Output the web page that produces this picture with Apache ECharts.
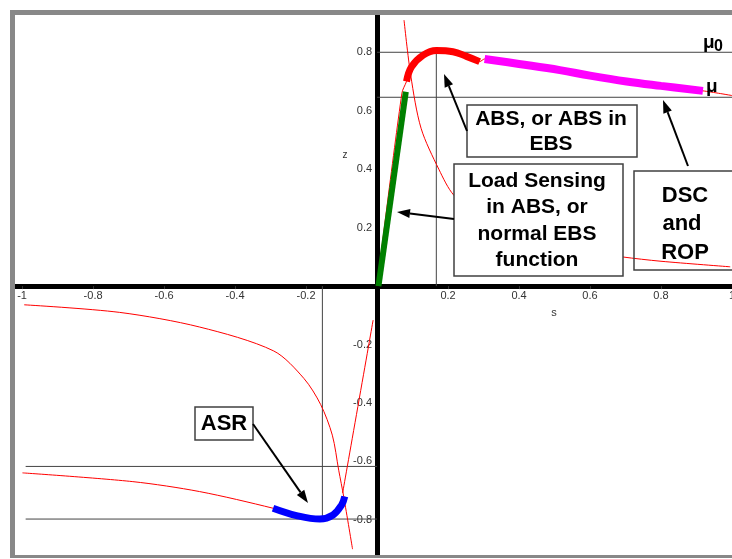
<!DOCTYPE html>
<html lang="en">
  <head>
    <meta charset="UTF-8" />
    <title>mu-slip</title>
    <style>
      html, body { margin: 0; padding: 0; background: #fff; }
      #chart { width: 732px; height: 559px; }
    </style>
  </head>
  <body>
    <div id="chart"></div>

    <script src="https://cdn.jsdelivr.net/npm/echarts@6.0.0/dist/echarts.min.js"></script>
    <script>
      // tick labels
      const xTicks = [-1, -0.8, -0.6, -0.4, -0.2, 0.2, 0.4, 0.6, 0.8, 1];
      const yTicks = [-0.8, -0.6, -0.4, -0.2, 0.2, 0.4, 0.6, 0.8];

      // thin red curves (s, z)
      const curveB = [[0.076, 0.91], [0.095, 0.72], [0.124, 0.54], [0.174, 0.40], [0.217, 0.31],
        [0.3, 0.23], [0.4, 0.17], [0.55, 0.125], [0.69, 0.10], [0.8, 0.085], [0.995, 0.066]];
      const curveA = [[-0.994, -0.064], [-0.725, -0.09], [-0.5, -0.14], [-0.291, -0.222],
        [-0.206, -0.316], [-0.159, -0.405], [-0.126, -0.51], [-0.108, -0.63], [-0.094, -0.72], [-0.069, -0.90]];
      const mainPos = [[0, 0], [0.07, 0.66], [0.083, 0.70], [0.097, 0.75], [0.13, 0.79], [0.167, 0.806],
        [0.214, 0.802], [0.252, 0.786], [0.289, 0.768], [0.303, 0.777], [0.515, 0.739], [0.703, 0.70],
        [0.918, 0.668], [1.0, 0.652]];
      const mainNeg = [[-0.999, -0.639], [-0.688, -0.669], [-0.5, -0.703], [-0.293, -0.76],
        [-0.227, -0.785], [-0.161, -0.797], [-0.124, -0.783], [-0.1, -0.749], [-0.091, -0.72]];
      const negLinear = [[-0.097, -0.708], [-0.011, -0.116]];

      // thick highlighted parts
      const greenPart = [[0.004, 0.0], [0.081, 0.665]];
      const redPart = [[0.083, 0.70], [0.097, 0.75], [0.13, 0.79], [0.167, 0.806], [0.214, 0.802],
        [0.252, 0.786], [0.289, 0.768]];
      const magentaPart = [[0.303, 0.777], [0.4, 0.76], [0.515, 0.739], [0.6, 0.72], [0.703, 0.70],
        [0.8, 0.685], [0.918, 0.668]];
      const bluePart = [[-0.293, -0.76], [-0.227, -0.785], [-0.161, -0.797], [-0.124, -0.783],
        [-0.1, -0.749], [-0.091, -0.72]];

      // reference lines
      const refLines = [
        [[0, 0.8], [1, 0.8]],
        [[0, 0.646], [1, 0.646]],
        [[0.167, 0], [0.167, 0.8]],
        [[-0.99, -0.617], [0, -0.617]],
        [[-0.99, -0.797], [0, -0.797]],
        [[-0.154, 0], [-0.154, -0.797]]
      ];

      const FONT = '"Liberation Sans", Arial, sans-serif';
      const X_MIN = -1.02, X_MAX = 1.0, Y_MIN = -0.92, Y_MAX = 0.9275;
      const G = { left: 15, right: 0, top: 15, bottom: 4 };
      const W = 732, H = 559;
      const gw = W - G.left - G.right, gh = H - G.top - G.bottom;
      // move the axes from the grid edge to the zero lines
      const xOffset = -(gh * (0 - Y_MIN) / (Y_MAX - Y_MIN));
      const yOffset = -(gw * (0 - X_MIN) / (X_MAX - X_MIN));

      function thin(data) {
        return { type: 'line', data: data, symbol: 'none', smooth: 0.3, z: 3,
          lineStyle: { color: '#ff0000', width: 1 } };
      }
      function thick(data, color, width) {
        return { type: 'line', data: data, symbol: 'none', smooth: 0.4, z: 4,
          lineStyle: { color: color, width: width, cap: 'butt' } };
      }

      const series = [];
      refLines.forEach((d) => {
        series.push({ type: 'line', data: d, symbol: 'none', z: 2,
          lineStyle: { color: '#444', width: 1 } });
      });
      series.push(thin(curveA), thin(curveB), thin(mainPos), thin(mainNeg), thin(negLinear));
      series.push(thick(greenPart, '#008000', 6));
      series.push(thick(redPart, '#ff0000', 7));
      series.push(thick(magentaPart, '#ff00ff', 8));
      series.push(thick(bluePart, '#0000ff', 7));

      // annotation layout (pixels)
      function box(x, y, w, h, fill) {
        return { type: 'rect', shape: { x: x, y: y, width: w, height: h }, z: 10,
          style: { fill: fill, stroke: '#404040', lineWidth: 1.5 } };
      }
      function label(text, x, y, size) {
        return { type: 'text', x: x, y: y, z: 11,
          style: { text: text, font: 'bold ' + size + 'px ' + FONT, fill: '#000',
            textAlign: 'center', textVerticalAlign: 'bottom' } };
      }
      function arrow(x1, y1, x2, y2) {
        const a = Math.atan2(y2 - y1, x2 - x1);
        const L = 13, Wd = 4.5;
        const bx = x2 - L * Math.cos(a), by = y2 - L * Math.sin(a);
        const px = -Math.sin(a) * Wd, py = Math.cos(a) * Wd;
        return [
          { type: 'line', z: 12, shape: { x1: x1, y1: y1, x2: bx, y2: by },
            style: { stroke: '#000', lineWidth: 2 } },
          { type: 'polygon', z: 12, shape: { points: [[x2, y2], [bx + px, by + py], [bx - px, by - py]] },
            style: { fill: '#000' } }
        ];
      }

      const graphic = [
        { type: 'rect', shape: { x: 10, y: 10, width: 722, height: 5 }, style: { fill: '#888' }, z: 20 },
        { type: 'rect', shape: { x: 10, y: 10, width: 5, height: 548 }, style: { fill: '#888' }, z: 20 },
        { type: 'rect', shape: { x: 10, y: 555, width: 722, height: 3 }, style: { fill: '#888' }, z: 20 },

        box(467, 105, 170, 52, '#fff'),
        label('ABS, or ABS in', 551, 130, 21),
        label('EBS', 551, 155, 21),

        box(454, 164, 169, 112, '#fff'),
        label('Load Sensing', 537, 192, 21),
        label('in ABS, or', 537, 218, 21),
        label('normal EBS', 537, 245, 21),
        label('function', 537, 271, 21),

        box(634, 171, 110, 99, 'none'),
        label('DSC', 685, 207, 22),
        label('and', 682, 235, 22),
        label('ROP', 685, 264, 22),

        box(195, 407, 58, 33, '#fff'),
        label('ASR', 224, 435, 22),

        { type: 'text', x: 703, y: 52, z: 11,
          style: { text: 'μ', font: 'bold 19px ' + FONT, fill: '#000', textVerticalAlign: 'bottom' } },
        { type: 'text', x: 714, y: 55, z: 11,
          style: { text: '0', font: 'bold 16px ' + FONT, fill: '#000', textVerticalAlign: 'bottom' } },
        { type: 'text', x: 706, y: 96, z: 11,
          style: { text: 'μ', font: 'bold 19px ' + FONT, fill: '#000', textVerticalAlign: 'bottom' } },

        { type: 'text', x: 554, y: 313, z: 11,
          style: { text: 's', font: '11px ' + FONT, fill: '#333', textAlign: 'center', textVerticalAlign: 'middle' } },
        { type: 'text', x: 345, y: 155, z: 11,
          style: { text: 'z', font: '10px ' + FONT, fill: '#333', textAlign: 'center', textVerticalAlign: 'middle' } }
      ].concat(
        arrow(467, 131, 444, 74),
        arrow(454, 219, 397, 212),
        arrow(688, 166, 663, 100),
        arrow(253, 424, 308, 503)
      );

      const chart = echarts.init(document.getElementById('chart'));
      chart.setOption({
        animation: false,
        backgroundColor: '#fff',
        grid: { left: G.left, right: G.right, top: G.top, bottom: G.bottom,
          containLabel: false, outerBoundsMode: 'none' },
        xAxis: {
          type: 'value', min: X_MIN, max: X_MAX, position: 'bottom', offset: xOffset,
          axisLine: { onZero: false, lineStyle: { color: '#000', width: 5 } },
          axisTick: { show: true, length: 3, customValues: xTicks, lineStyle: { color: '#333', width: 1 } },
          axisLabel: { customValues: xTicks, margin: 4, color: '#333', fontSize: 11, fontFamily: FONT,
            showMinLabel: true, showMaxLabel: true },
          splitLine: { show: false }
        },
        yAxis: {
          type: 'value', min: Y_MIN, max: Y_MAX, position: 'left', offset: yOffset,
          axisLine: { onZero: false, lineStyle: { color: '#000', width: 5 } },
          axisTick: { show: false },
          axisLabel: { customValues: yTicks, margin: 5, color: '#333', fontSize: 11, fontFamily: FONT },
          splitLine: { show: false }
        },
        series: series,
        graphic: graphic
      });
    </script>
  </body>
</html>
